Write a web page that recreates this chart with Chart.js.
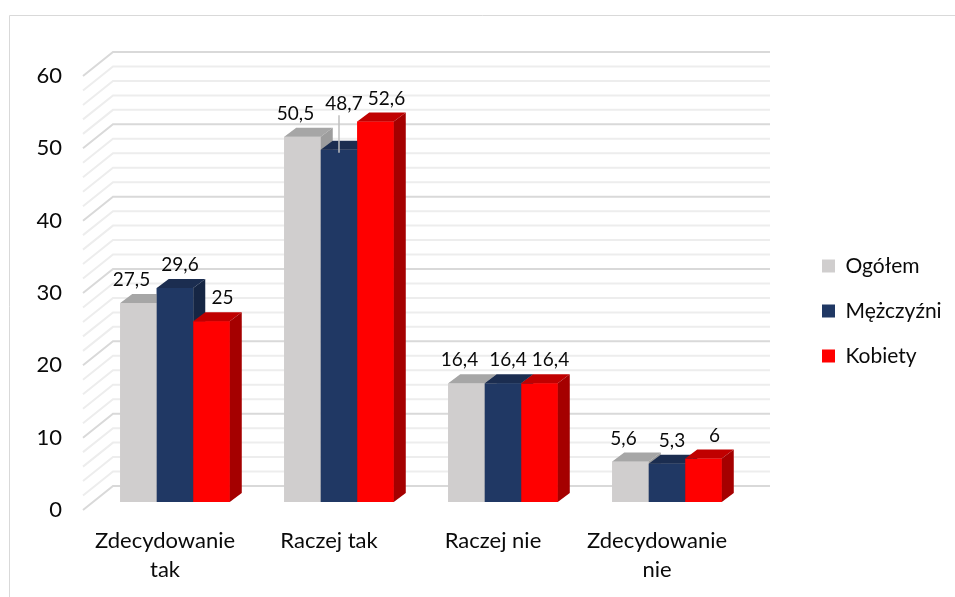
<!DOCTYPE html>
<html><head><meta charset="utf-8">
<script src="https://cdn.jsdelivr.net/npm/chart.js@4.4.1/dist/chart.umd.min.js"></script>
<style>html,body{margin:0;padding:0;background:#fff}canvas{display:block}</style>
</head><body>
<canvas id="c" width="955" height="597"></canvas>
<script>
// ---- data ----
const categories = [['Zdecydowanie', 'tak'], 'Raczej tak', 'Raczej nie', ['Zdecydowanie', 'nie']];
const seriesNames = ['Ogółem', 'Mężczyźni', 'Kobiety'];
const ogolem = [27.5, 50.5, 16.4, 5.6];
const mezczyzni = [29.6, 48.7, 16.4, 5.3];
const kobiety = [25, 52.6, 16.4, 6];
const yTicks = [0, 10, 20, 30, 40, 50, 60];
const minorStep = 2;

// ---- style ----
const faces = [
  { front: '#d0cece', top: '#a6a6a6', side: '#9d9d9d' },
  { front: '#203864', top: '#1b2d50', side: '#162644' },
  { front: '#ff0000', top: '#c00000', side: '#a50000' }
];
const DX = 12, DY = 9;
const labelShift = [-7, 5, 11];
const FONT = 'Lato';
const TEXT = '#0a0a0a';
const LEGEND_W = 157;

const frame = {
  id: 'frame',
  beforeLayout(chart) {
    const lg = chart.legend;
    if (lg && !lg._fixedW) {
      const orig = lg.fit.bind(lg);
      lg.fit = function () { orig(); this.width = LEGEND_W; };
      lg._fixedW = true;
    }
  },
  beforeDraw(chart) {
    const c = chart.ctx;
    c.save();
    c.strokeStyle = '#d9d9d9'; c.lineWidth = 1;
    c.beginPath(); c.moveTo(9.5, chart.height); c.lineTo(9.5, 15.5); c.lineTo(chart.width, 15.5); c.stroke();
    c.restore();
  }
};

const wall = {
  id: 'wall',
  beforeDatasetsDraw(chart) {
    const { ctx, chartArea: a, scales: { y } } = chart;
    ctx.save();
    ctx.lineWidth = 2;
    for (let v = y.min; v <= y.max + 1e-9; v += minorStep) {
      const p = y.getPixelForValue(v);
      ctx.strokeStyle = (v % 10 === 0) ? '#d9d9d9' : '#ededed';
      ctx.beginPath();
      ctx.moveTo(a.left - 10, p + 8);
      ctx.lineTo(a.left + 20, p - 16);
      ctx.lineTo(a.right + 21, p - 16);
      ctx.stroke();
    }
    ctx.restore();
  }
};

const bars3d = {
  id: 'bars3d',
  afterDatasetsDraw(chart) {
    const ctx = chart.ctx;
    ctx.save();
    const regions = [];
    chart.data.datasets.forEach((ds, i) => {
      const meta = chart.getDatasetMeta(i);
      const f = faces[i];
      meta.data.forEach(bar => {
        const { x, y, base, width } = bar.getProps(['x', 'y', 'base', 'width'], true);
        const l = x - width / 2, r = x + width / 2;
        regions.push({ l: l, r: r + DX, t: y - DY, b: base });
        ctx.fillStyle = f.front;
        ctx.fillRect(l, y, width, base - y);
        ctx.fillStyle = f.top;
        ctx.beginPath(); ctx.moveTo(l, y); ctx.lineTo(l + DX, y - DY); ctx.lineTo(r + DX, y - DY); ctx.lineTo(r, y); ctx.closePath(); ctx.fill();
        ctx.fillStyle = f.side;
        ctx.beginPath(); ctx.moveTo(r, y); ctx.lineTo(r + DX, y - DY); ctx.lineTo(r + DX, base - DY); ctx.lineTo(r, base); ctx.closePath(); ctx.fill();
      });
    });
    // data labels, lifted above neighbouring bars if they would overlap them
    ctx.font = '19px ' + FONT;
    ctx.textAlign = 'center';
    ctx.textBaseline = 'middle';
    const H = 17;
    chart.data.datasets.forEach((ds, i) => {
      const meta = chart.getDatasetMeta(i);
      meta.data.forEach((bar, j) => {
        const { x, y } = bar.getProps(['x', 'y'], true);
        const txt = String(ds.data[j]).replace('.', ',');
        const w = ctx.measureText(txt).width;
        const lx = x + labelShift[i];
        const cy0 = y - DY - 14;
        let cy = cy0;
        const hits = c => regions.some(g => lx + w / 2 > g.l + 1 && lx - w / 2 < g.r - 1 && c + H / 2 > g.t && c - H / 2 < g.b);
        let guard = 0;
        while (hits(cy) && guard++ < 80) cy -= 1;
        if (cy !== cy0) {
          ctx.strokeStyle = '#bfbfbf'; ctx.lineWidth = 1.5;
          ctx.beginPath(); ctx.moveTo(x, cy + H / 2 + 3); ctx.lineTo(x, y + 3); ctx.stroke();
        }
        ctx.fillStyle = TEXT;
        ctx.fillText(txt, lx, cy);
      });
    });
    ctx.restore();
  }
};

function draw() {
  new Chart(document.getElementById('c'), {
    type: 'bar',
    data: {
      labels: categories,
      datasets: [
        { label: seriesNames[0], data: ogolem, backgroundColor: faces[0].front },
        { label: seriesNames[1], data: mezczyzni, backgroundColor: faces[1].front },
        { label: seriesNames[2], data: kobiety, backgroundColor: faces[2].front }
      ]
    },
    options: {
      responsive: false,
      animation: false,
      events: [],
      layout: { padding: { top: 25, left: 0, right: 0, bottom: 0 } },
      datasets: { bar: { categoryPercentage: 0.668, barPercentage: 1 } },
      plugins: {
        legend: {
          position: 'right',
          labels: { boxWidth: 13, boxHeight: 13, padding: 24, color: TEXT, font: { family: FONT, size: 21 } }
        },
        tooltip: { enabled: false }
      },
      scales: {
        x: {
          grid: { display: false, drawTicks: false },
          border: { display: false },
          ticks: { padding: 24, labelOffset: -10, autoSkip: false, maxRotation: 0, color: TEXT, font: { family: FONT, size: 22, lineHeight: 1.32 } },
          afterFit(s) { s.height = 95; }
        },
        y: {
          min: 0, max: 60,
          grid: { display: false, drawTicks: false },
          border: { display: false },
          ticks: { padding: 31, labelOffset: 8, color: TEXT, font: { family: FONT, size: 22 } },
          afterBuildTicks(s) { s.ticks = yTicks.map(v => ({ value: v })); },
          afterFit(s) { s.width = 93; }
        },
        yR: {
          type: 'linear', position: 'right', display: true,
          grid: { display: false, drawTicks: false },
          border: { display: false },
          ticks: { display: false },
          afterFit(s) { s.width = 49; }
        },
        xT: {
          type: 'linear', position: 'top', display: true,
          grid: { display: false, drawTicks: false },
          border: { display: false },
          ticks: { display: false },
          afterFit(s) { s.height = 43; }
        }
      }
    },
    plugins: [frame, wall, bars3d]
  });
}
if (document.fonts && document.fonts.load) {
  document.fonts.load('22px ' + FONT).then(draw, draw);
} else { draw(); }
</script>
</body></html>
